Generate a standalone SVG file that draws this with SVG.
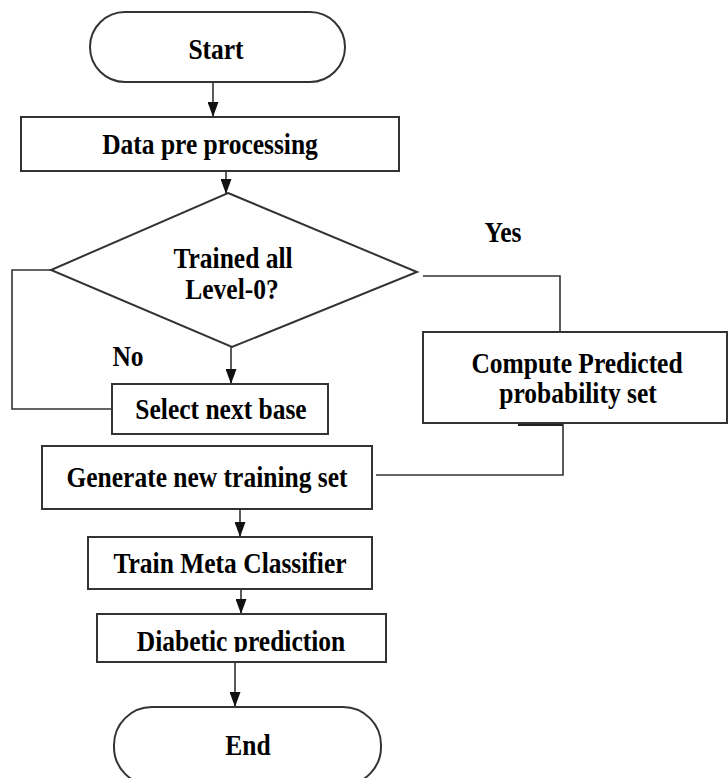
<svg xmlns="http://www.w3.org/2000/svg" width="728" height="778" viewBox="0 0 728 778">
<style>
.shape{fill:#fff;stroke:#333;stroke-width:2}
.ln{fill:none;stroke:#333;stroke-width:1.6}
.t{font-family:"Liberation Serif","Times New Roman",serif;font-weight:bold;font-size:25.5px;fill:#000;text-anchor:middle}
</style>
<defs>
<marker id="ah" markerWidth="15" markerHeight="11" refX="15" refY="5.5" orient="auto" markerUnits="userSpaceOnUse" viewBox="0 0 15 11">
<path d="M0,0 L15,5.5 L0,11 Z" fill="#111"/>
</marker>
<clipPath id="clipDiab"><rect x="97" y="614" width="289" height="38"/></clipPath>
</defs>
<rect width="728" height="778" fill="#fff"/>

<g id="connectors">
<line class="ln" x1="213" y1="82" x2="213" y2="117" marker-end="url(#ah)"/>
<line class="ln" x1="226" y1="171" x2="226" y2="194" marker-end="url(#ah)"/>
<line class="ln" x1="231" y1="347" x2="231" y2="384" marker-end="url(#ah)"/>
<polyline class="ln" points="51,270 12,270 12,409 112,409"/>
<polyline class="ln" points="423,276 560,276 560,332"/>
<line x1="518" y1="424.5" x2="563" y2="424.5" stroke="#222" stroke-width="3"/>
<polyline class="ln" points="563,424 563,475 376,475"/>
<line class="ln" x1="240" y1="509" x2="240" y2="537" marker-end="url(#ah)"/>
<line class="ln" x1="241" y1="589" x2="241" y2="614" marker-end="url(#ah)"/>
<line class="ln" x1="235" y1="662" x2="235" y2="707" marker-end="url(#ah)"/>
<text class="t" transform="translate(503,242) scale(1,1.12)">Yes</text>
<text class="t" transform="translate(128,366) scale(1,1.12)">No</text>
</g>

<g id="start">
<rect class="shape" x="90" y="12" width="255" height="70" rx="35" ry="35"/>
<text class="t" transform="translate(216,59) scale(1,1.12)">Start</text>
</g>

<g id="preprocess">
<rect class="shape" x="21" y="117" width="378" height="54"/>
<text class="t" transform="translate(210,154) scale(1,1.12)">Data pre processing</text>
</g>

<g id="decision">
<polygon class="shape" points="228,193 417,272 232,347 51,270"/>
<text class="t" transform="translate(233,268) scale(1,1.12)">Trained all</text>
<text class="t" transform="translate(232,299) scale(1,1.12)">Level-0?</text>
</g>

<g id="select">
<rect class="shape" x="112" y="384" width="216" height="50"/>
<text class="t" transform="translate(221,419) scale(1,1.12)">Select next base</text>
</g>

<g id="compute">
<rect class="shape" x="423" y="332" width="304" height="91"/>
<text class="t" transform="translate(577,373) scale(1,1.12)">Compute Predicted</text>
<text class="t" transform="translate(578,403) scale(1,1.12)">probability set</text>
</g>

<g id="generate">
<rect class="shape" x="42" y="446" width="330" height="63"/>
<text class="t" transform="translate(207,487) scale(1,1.12)">Generate new training set</text>
</g>

<g id="train">
<rect class="shape" x="88" y="537" width="284" height="52"/>
<text class="t" transform="translate(230,573) scale(1,1.12)">Train Meta Classifier</text>
</g>

<g id="diabetic">
<rect class="shape" x="97" y="614" width="289" height="48"/>
<g clip-path="url(#clipDiab)">
<text class="t" transform="translate(241,651) scale(1,1.12)">Diabetic prediction</text>
</g>
</g>

<g id="end">
<rect class="shape" x="114" y="707" width="267" height="78" rx="38" ry="38"/>
<text class="t" transform="translate(248,755) scale(1,1.12)">End</text>
</g>
</svg>
